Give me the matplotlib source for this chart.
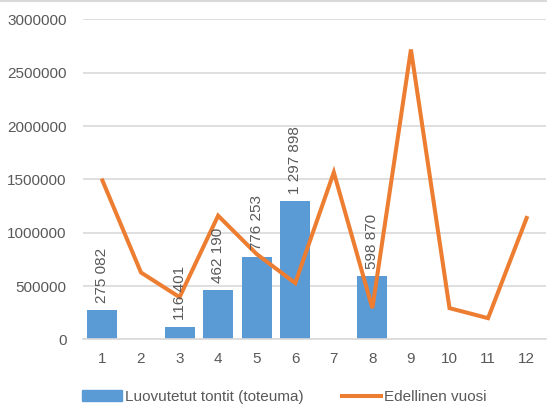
import numpy as np
import matplotlib.pyplot as plt
from matplotlib.lines import Line2D

plt.rcParams['font.family'] = ['Liberation Sans Narrow', 'Liberation Sans', 'DejaVu Sans']

months = [1, 2, 3, 4, 5, 6, 7, 8, 9, 10, 11, 12]
toteuma = [275082, np.nan, 116401, 462190, 776253, 1297898, np.nan, 598870,
           np.nan, np.nan, np.nan, np.nan]
edellinen = [1490000, 627000, 396000, 1160000, 800000, 528000, 1566000, 293000,
             2718000, 293000, 199000, 1138000]

bar_col = '#5B9BD5'
line_col = '#ED7D31'
txt_col = '#595959'

fig = plt.figure(figsize=(5.47, 4.05), dpi=100)
ax = fig.add_axes([0.152, 0.162, 0.846, 0.79])

x = np.arange(len(months))
ax.bar(x, toteuma, width=0.78, color=bar_col, zorder=2, label='Luovutetut tontit (toteuma)')
ax.plot(x, edellinen, color=line_col, linewidth=2.9, zorder=3, label='Edellinen vuosi',
        solid_joinstyle='miter')

for xi, v in zip(x, toteuma):
    if not np.isnan(v):
        lab = f'{int(v):,}'.replace(',', ' ')
        ax.annotate(lab, (xi, v), xytext=(0, 5), textcoords='offset points',
                    rotation=90, ha='center', va='bottom', fontsize=11, color=txt_col, zorder=4)

ax.set_ylim(0, 3000000)
ax.set_xlim(-0.5, len(months) - 0.5)
ax.set_yticks(np.arange(0, 3000001, 500000))
ax.set_yticklabels([str(v) for v in range(0, 3000001, 500000)])
ax.set_xticks(x)
ax.set_xticklabels([str(m) for m in months])
ax.tick_params(axis='both', length=0, labelsize=11, labelcolor=txt_col)
ax.tick_params(axis='x', pad=9)
ax.tick_params(axis='y', pad=12)
ax.grid(axis='y', color='#D9D9D9', linewidth=1.2, zorder=0)
for s in ['top', 'right', 'left']:
    ax.spines[s].set_visible(False)
ax.spines['bottom'].set_color('#D9D9D9')
ax.spines['bottom'].set_linewidth(1.2)

handles = [plt.Rectangle((0, 0), 1, 1, color=bar_col),
           Line2D([0], [0], color=line_col, linewidth=2.9)]
fig.legend(handles, ['Luovutetut tontit (toteuma)', 'Edellinen vuosi'],
           loc='center', bbox_to_anchor=(0.52, 0.02), ncol=2, frameon=False,
           fontsize=11, labelcolor=txt_col, handlelength=2.6, handleheight=0.7,
           columnspacing=2.5, handletextpad=0.2)

fig.add_artist(Line2D([0, 1], [0.998, 0.998], color='#D9D9D9', linewidth=1.5,
                      transform=fig.transFigure))

fig.savefig('out.png', dpi=100)
